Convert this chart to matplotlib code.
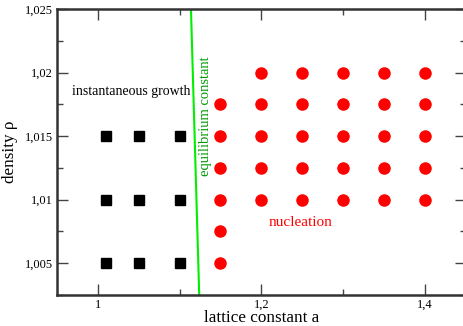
import numpy as np
import matplotlib
matplotlib.use("Agg")
import matplotlib.pyplot as plt
from matplotlib.ticker import MultipleLocator, FuncFormatter

plt.rcParams['font.family'] = ['Liberation Serif', 'DejaVu Serif']

# instantaneous growth runs (lattice constant, density)
growth_a = [1.01, 1.05, 1.10, 1.01, 1.05, 1.10, 1.01, 1.05, 1.10]
growth_rho = [1.005, 1.005, 1.005, 1.010, 1.010, 1.010, 1.015, 1.015, 1.015]

# nucleation runs
nucl_a = [1.15, 1.15, 1.15, 1.15, 1.15, 1.15,
          1.20, 1.20, 1.20, 1.20, 1.20,
          1.25, 1.25, 1.25, 1.25, 1.25,
          1.30, 1.30, 1.30, 1.30, 1.30,
          1.35, 1.35, 1.35, 1.35, 1.35,
          1.40, 1.40, 1.40, 1.40, 1.40]
nucl_rho = [1.005, 1.0075, 1.010, 1.0125, 1.015, 1.0175,
            1.010, 1.0125, 1.015, 1.0175, 1.020,
            1.010, 1.0125, 1.015, 1.0175, 1.020,
            1.010, 1.0125, 1.015, 1.0175, 1.020,
            1.010, 1.0125, 1.015, 1.0175, 1.020,
            1.010, 1.0125, 1.015, 1.0175, 1.020]

# equilibrium lattice constant vs density
eq_a = [1.1240, 1.1139]
eq_rho = [1.0025, 1.025]

fig = plt.figure(figsize=(4.63, 3.26), dpi=100)
ax = fig.add_axes([0.123, 0.095, 0.883, 0.877])

ax.plot(growth_a, growth_rho, 's', color='black', markersize=7.5, linestyle='none')
ax.plot(nucl_a, nucl_rho, 'o', color='#ff0000', markersize=8, linestyle='none')
ax.plot(eq_a, eq_rho, '-', color='#00ee00', linewidth=1.5)

ax.set_xlim(0.95, 1.45)
ax.set_ylim(1.0025, 1.025)

ax.xaxis.set_major_locator(MultipleLocator(0.2))
ax.xaxis.set_minor_locator(MultipleLocator(0.1))
ax.yaxis.set_major_locator(MultipleLocator(0.005))
ax.yaxis.set_minor_locator(MultipleLocator(0.0025))


def comma_fmt(v, pos):
    s = ('%.3f' % v).rstrip('0').rstrip('.')
    return s.replace('.', ',')


ax.xaxis.set_major_formatter(FuncFormatter(comma_fmt))
ax.yaxis.set_major_formatter(FuncFormatter(comma_fmt))

ax.tick_params(which='both', direction='in', top=True, right=True,
               color='#444444', labelsize=8.9, pad=3)
ax.tick_params(which='major', length=8, width=1)
ax.tick_params(which='minor', length=4, width=1)
for sp in ax.spines.values():
    sp.set_linewidth(1.8)
    sp.set_color('#333333')

ax.set_xlabel('lattice constant a', fontsize=12.3, labelpad=-1)
ax.set_ylabel('density ρ', fontsize=12.3, labelpad=5)

ax.text(1.041, 1.0185, 'instantaneous growth', fontsize=10, ha='center', va='center')
ax.text(1.1314, 1.0166, 'equilibrium constant', fontsize=10.5, color='#009900',
        rotation=90, ha='center', va='center')
ax.text(1.2478, 1.0082, 'nucleation', fontsize=11, color='#ff0000',
        ha='center', va='center')

fig.savefig('out.png', dpi=100)
